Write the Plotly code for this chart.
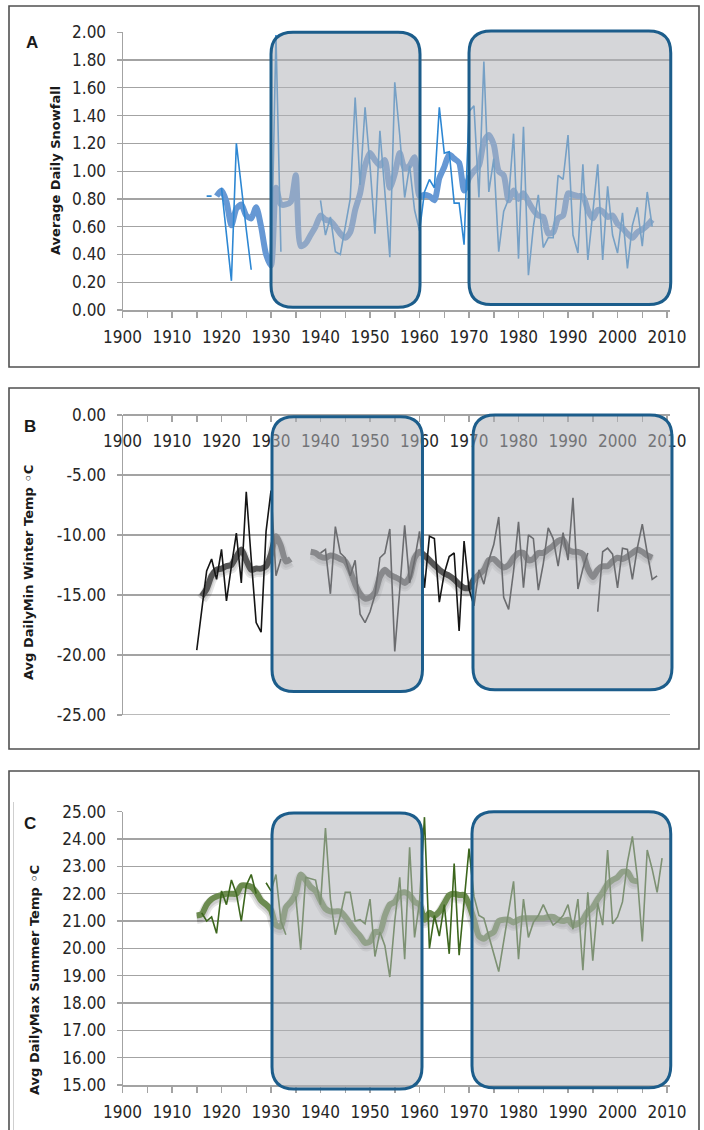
import plotly.graph_objects as go

# ---------------- data ----------------
# Panel A: average daily snowfall (annual values + smoothed running mean)
snow_start = 1917
snow_annual = [
    0.82, 0.82, None,                                              # 1917-1919
    0.88, 0.55, 0.21, 1.20, 0.88, 0.58, 0.29, None, None, None,    # 1920s
    0.23, 1.98, 0.42, None, None, None, None, None, None, None,    # 1930s
    0.79, 0.54, 0.67, 0.42, 0.40, 0.60, 0.80, 1.53, 0.90, 1.46,    # 1940s
    1.04, 0.55, 1.29, 0.85, 0.38, 1.64, 1.26, 0.81, 1.04, 0.72,    # 1950s
    0.57, 0.85, 0.94, 0.88, 1.46, 1.13, 1.14, 0.77, 0.77, 0.47,    # 1960s
    1.43, 1.47, 0.81, 1.79, 0.85, 1.09, 0.42, 0.71, 0.80, 1.27,    # 1970s
    0.37, 1.32, 0.25, 0.60, 0.83, 0.45, 0.52, 0.52, 0.97, 0.94,    # 1980s
    1.26, 0.54, 0.41, 1.05, 0.36, 0.70, 1.05, 0.36, 0.89, 0.54,    # 1990s
    0.41, 0.70, 0.30, 0.61, 0.74, 0.46, 0.85, 0.60,                # 2000-2007
]
snow_avg_start = 1919
snow_avg = [
    0.82,                                                          # 1919
    0.86, 0.78, 0.61, 0.73, 0.76, 0.68, 0.66, 0.74, 0.60, 0.40,    # 1920s
    0.32, 0.88, 0.76, 0.76, 0.78, 0.97, 0.46, 0.48, 0.54, 0.60,    # 1930s
    0.68, 0.65, 0.64, 0.60, 0.55, 0.52, 0.56, 0.72, 0.84, 1.04,    # 1940s
    1.13, 1.08, 1.04, 1.08, 0.88, 0.98, 1.13, 1.02, 1.04, 1.10,    # 1950s
    0.82, 0.83, 0.82, 0.79, 0.95, 1.03, 1.12, 1.09, 1.06, 0.86,    # 1960s
    0.95, 1.00, 1.04, 1.21, 1.26, 1.19, 1.00, 0.97, 0.79, 0.86,    # 1970s
    0.80, 0.84, 0.78, 0.72, 0.68, 0.67, 0.55, 0.56, 0.66, 0.68,    # 1980s
    0.84, 0.83, 0.82, 0.82, 0.72, 0.66, 0.72, 0.71, 0.67, 0.68,    # 1990s
    0.62, 0.59, 0.55, 0.52, 0.56, 0.58, 0.61, 0.65,                # 2000-2007
]

# Panel B: average daily minimum winter temperature
winter_start = 1915
winter_annual = [
    -19.6, -16.2, -13.0, -12.0, -13.7,                                  # 1915-1919
    -11.2, -15.5, -12.6, -9.85, -14.0, -6.4, -12.0, -17.3, -18.1, -9.7, # 1920s
    -6.3, -13.4, -12.0, None, None, None, None, None, None, None,       # 1930s
    -11.5, -11.2, -14.9, -9.3, -11.5, -11.9, -13.4, -12.1, -16.6, -17.3,# 1940s
    -16.4, -15.0, -11.9, -11.5, -9.5, -19.7, -14.6, -9.2, -14.0, -12.1, # 1950s
    -9.7, -14.4, -10.1, -10.3, -15.6, -13.2, -11.8, -11.5, -18.0, -10.5,# 1960s
    -14.5, -15.9, -12.9, -14.1, -12.1, -10.8, -8.5, -15.2, -16.2, -13.0,# 1970s
    -8.9, -14.4, -10.0, -10.3, -14.6, -12.4, -9.4, -10.3, -12.6, -9.8,  # 1980s
    -12.1, -6.9, -14.5, -12.8, -11.5, None, -16.4, -11.4, -11.1, -11.6, # 1990s
    -14.4, -11.1, -11.2, -13.7, -11.1, -9.1, -11.5, -13.7, -13.4,       # 2000-2008
]
winter_avg_start = 1916
winter_avg = [
    -15.1, -14.5, -13.4, -12.9,                                          # 1916-1919
    -12.8, -12.6, -12.5, -11.8, -11.2, -12.1, -12.9, -12.8, -12.8, -12.6,# 1920s
    -11.6, -10.1, -10.9, -12.2, -12.0, None, None, None, -11.4, -11.5,   # 1930s
    -11.8, -11.9, -11.7, -11.8, -12.0, -12.2, -13.0, -14.1, -14.9, -15.3,# 1940s
    -15.2, -14.8, -13.5, -12.9, -13.3, -13.5, -13.7, -14.0, -13.5, -11.9,# 1950s
    -11.4, -11.7, -12.1, -12.5, -12.9, -13.2, -13.4, -13.7, -14.1, -14.4,# 1960s
    -14.4, -13.7, -13.3, -12.9, -12.1, -12.0, -12.4, -12.7, -12.5, -11.9,# 1970s
    -11.5, -11.5, -12.1, -12.0, -11.5, -11.5, -11.2, -10.9, -10.5, -10.4,# 1980s
    -11.2, -11.4, -11.4, -11.6, -12.8, -13.5, -12.9, -12.6, -12.6, -12.2,# 1990s
    -11.9, -12.0, -11.8, -11.5, -11.2, -11.4, -11.7, -11.9,              # 2000-2007
]

# Panel C: average daily maximum summer temperature
summer_start = 1916
summer_annual = [
    21.3, 21.0, 21.15, 20.55,                                        # 1916-1919
    22.1, 21.6, 22.5, 22.0, 21.0, 22.3, 22.7, 22.0, None, 22.4,      # 1920s
    22.1, 22.7, 21.0, 20.5, None, 21.9, 19.95, 22.6, 22.55, 22.5,    # 1930s
    21.6, 24.4, 21.8, 20.5, 21.2, 22.05, 22.05, 21.0, 21.05, 20.9,   # 1940s
    21.8, 19.7, 20.6, 20.1, 18.95, 21.0, 22.6, 19.6, 23.7, 20.4,     # 1950s
    21.7, 24.8, 20.0, 21.2, 20.45, 21.6, 19.8, 23.1, 19.75, 21.6,    # 1960s
    23.65, 21.9, 21.2, 21.1, 20.4, 19.8, 19.15, 20.2, 21.3, 22.45,   # 1970s
    19.6, 21.8, 20.4, 20.95, 21.2, 21.6, 21.2, 20.85, 21.0, 21.2,    # 1980s
    21.6, 20.7, 21.8, 19.2, 22.05, 19.55, 21.65, 20.85, 23.6, 20.9,  # 1990s
    21.15, 21.7, 23.15, 24.1, 22.6, 20.25, 23.6, 22.9, 22.05, 23.3,  # 2000s
]
summer_avg_start = 1915
summer_avg = [
    21.2, 21.25, 21.6, 21.8, 21.9,                                   # 1915-1919
    21.95, 22.0, 22.0, 22.0, 22.3, 22.3, 22.25, 22.05, 21.75, 21.6,  # 1920s
    21.4, 20.85, 20.8, 21.5, 21.7, 22.0, 22.7, 22.5, 22.25, 22.1,    # 1930s
    21.75, 21.45, 21.35, 21.35, 21.35, 21.15, 20.9, 20.65, 20.45, 20.2,  # 1940s
    20.25, 20.6, 20.6, 21.2, 21.6, 21.7, 22.0, 22.05, 21.95, 21.7,   # 1950s
    21.6, 21.05, 21.3, 21.2, 21.35, 21.65, 21.95, 22.0, 21.95, 21.95,# 1960s
    21.6, 21.05, 20.45, 20.35, 20.5, 20.6, 21.0, 21.05, 21.05, 20.95,# 1970s
    21.05, 21.1, 21.1, 21.1, 21.1, 21.1, 21.15, 21.15, 21.05, 21.0,  # 1980s
    21.05, 20.85, 20.9, 21.05, 21.35, 21.5, 21.8, 22.05, 22.35, 22.5,# 1990s
    22.6, 22.8, 22.8, 22.5, 22.45,                                   # 2000-2004
]

x_tick_years = list(range(1900, 2011, 10))
snow_ticks = [round(0.2 * i, 1) for i in range(11)]
winter_ticks = [0, -5, -10, -15, -20, -25]
summer_ticks = list(range(15, 26))

# highlighted periods (years / values) per panel
boxes_a = [(1930.0, 1960.1, 0.02, 2.0), (1970.0, 2010.75, 0.04, 2.01)]
boxes_b = [(1930.2, 1960.6, -23.05, -0.15), (1970.8, 2011.0, -22.9, 0.0)]
boxes_c = [(1930.2, 1960.5, 14.85, 24.95), (1970.6, 2010.75, 14.9, 25.0)]


def yrs(start, values):
    return list(range(start, start + len(values)))


def labels(ticks):
    return [f"{v:.2f}" for v in ticks]


# ---------------- geometry ----------------
W, H = 704, 1130


def fx(p):
    return p / W


def fy(p):
    return 1 - p / H


XDOM = [fx(122.5), fx(670.0)]
XR = [1900, 2010.6]
A_DOM, A_R = [fy(310.0), fy(32.3)], [0, 2.0]
B_DOM, B_R = [fy(715.0), fy(415.0)], [-25, 0]
C_DOM, C_R = [fy(1085.0), fy(811.7)], [15, 25]

TICKFONT = dict(family="Liberation Sans Narrow, Arial Narrow, DejaVu Sans Condensed, sans-serif",
                size=17, color="#262626")
AXC = "#a3a3a3"

# colours
A_THIN, A_THICK = "#2d87d3", "rgb(102,152,212)"
B_THIN, B_THICK = "#151515", "#565656"
C_THIN, C_THICK = "#3c661d", "#6c8b50"
SHADOW = "rgba(0,0,0,0.10)"

fig = go.Figure()

# ---- Panel A ----
fig.add_trace(go.Scatter(x=yrs(snow_avg_start, snow_avg), y=snow_avg, mode="lines",
                         line=dict(color=A_THICK, width=6, shape="spline", smoothing=0.7),
                         xaxis="x", yaxis="y", hoverinfo="skip"))
fig.add_trace(go.Scatter(x=yrs(snow_start, snow_annual), y=snow_annual, mode="lines",
                         line=dict(color=A_THIN, width=1.6),
                         xaxis="x", yaxis="y", hoverinfo="skip"))

# ---- Panel B ---- (shadow on shifted base axis y2, real lines on y4)
for w in (11, 7):
    fig.add_trace(go.Scatter(x=yrs(winter_avg_start, winter_avg), y=winter_avg, mode="lines",
                             line=dict(color=SHADOW, width=w, shape="spline", smoothing=0.7),
                             xaxis="x2", yaxis="y2", hoverinfo="skip"))
fig.add_trace(go.Scatter(x=yrs(winter_avg_start, winter_avg), y=winter_avg, mode="lines",
                         line=dict(color=B_THICK, width=6, shape="spline", smoothing=0.7),
                         xaxis="x2", yaxis="y4", hoverinfo="skip"))
fig.add_trace(go.Scatter(x=yrs(winter_start, winter_annual), y=winter_annual, mode="lines",
                         line=dict(color=B_THIN, width=1.6),
                         xaxis="x2", yaxis="y4", hoverinfo="skip"))

# ---- Panel C ----
for w in (11, 7):
    fig.add_trace(go.Scatter(x=yrs(summer_avg_start, summer_avg), y=summer_avg, mode="lines",
                             line=dict(color=SHADOW, width=w, shape="spline", smoothing=0.7),
                             xaxis="x3", yaxis="y3", hoverinfo="skip"))
fig.add_trace(go.Scatter(x=yrs(summer_avg_start, summer_avg), y=summer_avg, mode="lines",
                         line=dict(color=C_THICK, width=6, shape="spline", smoothing=0.7),
                         xaxis="x3", yaxis="y5", hoverinfo="skip"))
fig.add_trace(go.Scatter(x=yrs(summer_start, summer_annual), y=summer_annual, mode="lines",
                         line=dict(color=C_THIN, width=1.6),
                         xaxis="x3", yaxis="y5", hoverinfo="skip"))


def xaxis_cfg(**kw):
    d = dict(domain=XDOM, range=XR, tickmode="array", tickvals=x_tick_years,
             ticktext=[str(v) for v in x_tick_years],
             ticks="outside", ticklen=6, tickwidth=1.5, tickcolor=AXC,
             minor=dict(tick0=1900, dtick=5, ticks="outside", ticklen=6, tickwidth=1.5,
                        tickcolor=AXC, showgrid=False),
             showline=True, linecolor=AXC, linewidth=2, showgrid=False, zeroline=False,
             tickfont=TICKFONT, ticklabelstandoff=5, fixedrange=True, automargin=False)
    d.update(kw)
    return d


def yaxis_cfg(ticks, **kw):
    d = dict(tickmode="array", tickvals=ticks, ticktext=labels(ticks),
             ticks="outside", ticklen=5, tickwidth=1.3, tickcolor=AXC,
             showgrid=True, gridcolor=AXC, gridwidth=1.3, showline=True, linecolor=AXC,
             linewidth=1, zeroline=False, tickfont=TICKFONT, ticklabelstandoff=7,
             fixedrange=True, automargin=False)
    d.update(kw)
    return d


def hidden(**kw):
    d = dict(visible=False, showgrid=False, zeroline=False, fixedrange=True, automargin=False)
    d.update(kw)
    return d


b_shift = 3 * (B_R[1] - B_R[0]) / 300.0
c_shift = 3 * (C_R[1] - C_R[0]) / 273.3

fig.update_layout(
    template="none",
    width=W, height=H, margin=dict(l=0, r=0, t=0, b=0, pad=0, autoexpand=False),
    paper_bgcolor="white", plot_bgcolor="rgba(0,0,0,0)", showlegend=False,
    xaxis=xaxis_cfg(anchor="y"),
    yaxis=yaxis_cfg(snow_ticks, domain=A_DOM, range=A_R, anchor="x"),
    xaxis2=xaxis_cfg(anchor="free", position=B_DOM[1], side="bottom"),
    yaxis2=hidden(domain=B_DOM, range=[B_R[0] + b_shift, B_R[1] + b_shift], anchor="x2"),
    yaxis4=yaxis_cfg(winter_ticks, overlaying="y2", range=B_R, anchor="x2", side="left"),
    xaxis3=xaxis_cfg(anchor="y3"),
    yaxis3=hidden(domain=C_DOM, range=[C_R[0] + c_shift, C_R[1] + c_shift], anchor="x3"),
    yaxis5=yaxis_cfg(summer_ticks, overlaying="y3", range=C_R, anchor="x3", side="left"),
)


# ---------------- shapes ----------------
def to_paper(xv, yv, dom_y, rng_y):
    px_ = XDOM[0] + (xv - XR[0]) / (XR[1] - XR[0]) * (XDOM[1] - XDOM[0])
    py_ = dom_y[0] + (yv - rng_y[0]) / (rng_y[1] - rng_y[0]) * (dom_y[1] - dom_y[0])
    return px_, py_


def rounded_path(x0, x1, y0, y1, r_px=22):
    rx, ry = r_px / W, r_px / H
    return (f"M {x0 + rx},{y1} L {x1 - rx},{y1} Q {x1},{y1} {x1},{y1 - ry} "
            f"L {x1},{y0 + ry} Q {x1},{y0} {x1 - rx},{y0} L {x0 + rx},{y0} "
            f"Q {x0},{y0} {x0},{y0 + ry} L {x0},{y1 - ry} Q {x0},{y1} {x0 + rx},{y1} Z")


shapes = []
# panel frames
for top, bot in ((6, 367), (388, 749), (771, 1140)):
    shapes.append(dict(type="rect", xref="paper", yref="paper", x0=fx(9), x1=fx(699),
                       y0=fy(bot), y1=fy(top), line=dict(color="#505050", width=1.6),
                       fillcolor="rgba(0,0,0,0)", layer="below"))
shapes.append(dict(type="line", xref="paper", yref="paper", x0=fx(13.5), x1=fx(13.5),
                   y0=fy(1130), y1=fy(802), line=dict(color="#cfcfcf", width=1), layer="below"))
# bottom gridline of panel B (at the edge of the range, plotly skips it)
shapes.append(dict(type="line", xref="x2 domain", yref="y4", x0=0, x1=1,
                   y0=winter_ticks[-1], y1=winter_ticks[-1],
                   line=dict(color=AXC, width=1.3), layer="below"))

for boxes, dom, rng in ((boxes_a, A_DOM, A_R), (boxes_b, B_DOM, B_R), (boxes_c, C_DOM, C_R)):
    for (xa, xb, ya, yb) in boxes:
        X0, Y0 = to_paper(xa, ya, dom, rng)
        X1, Y1 = to_paper(xb, yb, dom, rng)
        shapes.append(dict(type="path", xref="paper", yref="paper",
                           path=rounded_path(X0, X1, Y0, Y1),
                           fillcolor="rgba(178,181,186,0.55)",
                           line=dict(color="#1c5d8b", width=3), layer="above"))
fig.update_layout(shapes=shapes)

# ---------------- annotations ----------------
TITLEFONT = dict(family="DejaVu Sans, Verdana, sans-serif", size=13, color="#1a1a1a")
LETTERFONT = dict(family="Liberation Sans, Arial, sans-serif", size=17, color="#1a1a1a")
ann = []
for text, x, y in (("Average Daily Snowfall", 55, 171),
                   ("Avg DailyMin Winter Temp ◦C", 28, 573),
                   ("Avg DailyMax Summer Temp ◦C", 34, 980)):
    ann.append(dict(text=f"<b>{text}</b>", x=fx(x), y=fy(y), xref="paper", yref="paper",
                    textangle=-90, showarrow=False, xanchor="center", yanchor="middle",
                    font=TITLEFONT))
for text, x, y in (("A", 32, 43), ("B", 30, 426), ("C", 30, 823)):
    ann.append(dict(text=f"<b>{text}</b>", x=fx(x), y=fy(y), xref="paper", yref="paper",
                    showarrow=False, xanchor="center", yanchor="middle", font=LETTERFONT))
fig.update_layout(annotations=ann)

fig.write_html("out.html",
               config={"displayModeBar": False, "staticPlot": True},
               post_script="document.body.style.margin='0px';"
                           "document.body.style.overflow='hidden';")
